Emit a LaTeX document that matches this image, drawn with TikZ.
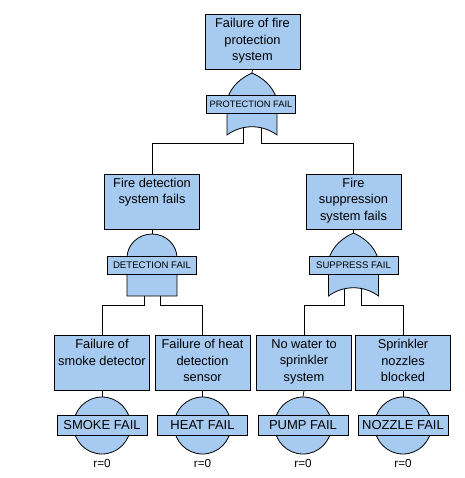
\documentclass[tikz,border=0pt]{standalone}
\usepackage{fontspec}
\setmainfont{Liberation Sans}
\usetikzlibrary{positioning, calc}
\definecolor{ftaBlue}{HTML}{A6CAF0}
\newcommand{\evtext}[1]{\parbox[c][47pt][t]{93pt}{\centering #1}}

\begin{document}
\begin{tikzpicture}[x=1pt, y=1pt, line width=0.8pt,
    event/.style={rectangle, draw, fill=ftaBlue, inner xsep=1pt, inner ysep=4pt,
                  font=\fontsize{12.8}{16.5}\selectfont},
    gatelbl/.style={rectangle, draw, fill=ftaBlue, minimum width=89pt,
                    minimum height=18pt, inner sep=0pt, font=\fontsize{9.6}{11}\selectfont},
    basic/.style={circle, draw, fill=ftaBlue, minimum size=57pt, inner sep=0pt},
    basiclbl/.style={rectangle, draw, fill=ftaBlue, minimum width=90pt,
                     minimum height=20pt, inner sep=0pt, font=\fontsize{13}{15}\selectfont},
    rate/.style={inner sep=0pt, font=\fontsize{11.7}{13}\selectfont},
    gateshape/.style={draw, fill=ftaBlue},
  ]
  \useasboundingbox (0,0) rectangle (464,-478);

  % top event and its OR gate
  \node[event] (top) at (252.5,-42) {\evtext{Failure of fire\\protection\\system}};
  \coordinate (g1) at (252,-73);
  \draw (top.south) -- (g1);
  \draw[gateshape, shift={(g1)}] (-25,-27) .. controls (-21,-12) and (-9,-4) .. (0,0)
    .. controls (9,-4) and (21,-12) .. (25,-27) -- (25,-62)
    .. controls (10,-51) and (-10,-51) .. (-25,-62) -- cycle;
  \node[gatelbl, font=\fontsize{9.3}{11}\selectfont] (g1lbl) at ($(g1)+(-1,-31)$) {PROTECTION FAIL};
  \coordinate (g1a) at ($(g1)+(-9,-55)$);
  \coordinate (g1b) at ($(g1)+(9,-55)$);
  \coordinate (bus1) at (0,-143);

  % intermediate events
  \node[event] (det) at (152,-201.5) {\evtext{Fire detection\\system fails}};
  \node[event] (sup) at (353.5,-201.5) {\evtext{Fire\\suppression\\system fails}};
  \draw (g1a) -- (g1a |- bus1) -| (det.north);
  \draw (g1b) -- (g1b |- bus1) -| (sup.north);

  % AND gate under detection
  \coordinate (g2) at (152,-234);
  \draw (det.south) -- (g2);
  \draw[gateshape, shift={(g2)}] (-25,-62) -- (-25,-24)
    arc[start angle=180, end angle=0, x radius=25, y radius=24] -- (25,-62) -- cycle;
  \node[gatelbl] (g2lbl) at ($(g2)+(0,-31)$) {DETECTION FAIL};
  \coordinate (g2a) at ($(g2)+(-8,-62)$);
  \coordinate (g2b) at ($(g2)+(8,-62)$);

  % OR gate under suppression
  \coordinate (g3) at (353.5,-233);
  \draw (sup.south) -- (g3);
  \draw[gateshape, shift={(g3)}] (-25,-27) .. controls (-21,-12) and (-9,-4) .. (0,0)
    .. controls (9,-4) and (21,-12) .. (25,-27) -- (25,-63)
    .. controls (10,-52) and (-10,-52) .. (-25,-63) -- cycle;
  \node[gatelbl] (g3lbl) at ($(g3)+(0,-32)$) {SUPPRESS FAIL};
  \coordinate (g3a) at ($(g3)+(-9,-56)$);
  \coordinate (g3b) at ($(g3)+(8,-56)$);
  \coordinate (bus2) at (0,-305);

  % basic events
  \node[event] (b1) at (102,-363) {\evtext{Failure of\\smoke detector}};
  \node[event] (b2) at (202.5,-363) {\evtext{Failure of heat\\detection\\sensor}};
  \node[event] (b3) at (304,-363) {\evtext{No water to\\sprinkler\\system}};
  \node[event] (b4) at (403,-363) {\evtext{Sprinkler\\nozzles\\blocked}};
  \draw (g2a) -- (g2a |- bus2) -| (b1.north);
  \draw (g2b) -- (g2b |- bus2) -| (b2.north);
  \draw (g3a) -- (g3a |- bus2) -| (b3.north);
  \draw (g3b) -- (g3b |- bus2) -| (b4.north);

  \node[basic] (c1) at (102,-425.5) {};
  \node[basic] (c2) at (202.5,-425.5) {};
  \node[basic] (c3) at (303,-425.5) {};
  \node[basic] (c4) at (403,-425.5) {};
  \draw (b1.south) -- (c1.north);
  \draw (b2.south) -- (c2.north);
  \draw (b3.south) -- (c3.north);
  \draw (b4.south) -- (c4.north);
  \node[basiclbl] (c1lbl) at (c1) {SMOKE FAIL};
  \node[basiclbl] (c2lbl) at (c2) {HEAT FAIL};
  \node[basiclbl] (c3lbl) at (c3) {PUMP FAIL};
  \node[basiclbl] (c4lbl) at (c4) {NOZZLE FAIL};
  \node[rate, below=5pt of c1] (r1) {r=0};
  \node[rate, below=5pt of c2] (r2) {r=0};
  \node[rate, below=5pt of c3] (r3) {r=0};
  \node[rate, below=5pt of c4] (r4) {r=0};
\end{tikzpicture}
\end{document}
